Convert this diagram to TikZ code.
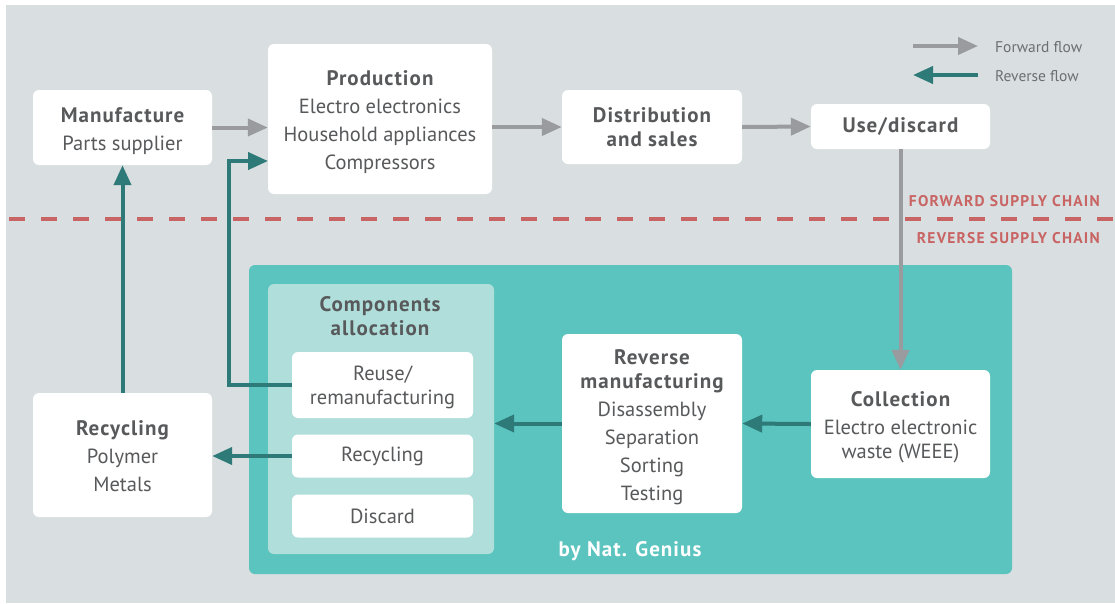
\documentclass[tikz,border=0pt]{standalone}
\usepackage{fontspec}
\setmainfont{PT Sans}
\usetikzlibrary{arrows.meta}
\definecolor{bg}{HTML}{D9DEE0}
\definecolor{txt}{HTML}{58595B}
\definecolor{fwdc}{HTML}{9A9B9E}
\definecolor{revc}{HTML}{2E7A78}
\definecolor{tealbig}{HTML}{5BC4BF}
\definecolor{teallight}{HTML}{B0DFDB}
\definecolor{redc}{HTML}{C96464}
\definecolor{legtxt}{HTML}{6D6E71}
\newcommand\hd[1]{{\fontsize{21}{28}\selectfont\bfseries\addfontfeature{LetterSpace=5}#1}}
\newcommand\stx[1]{\rule{0pt}{#1}}
\begin{document}
\begin{tikzpicture}[x=1pt,y=-1pt,
  box/.style={fill=white, rounded corners=6pt, text=txt, align=center, inner sep=0pt,
    font=\fontsize{20.5}{28}\selectfont},
  fwd/.style={draw=fwdc, line width=4pt, -{Triangle[length=20pt,width=17pt]}},
  revf/.style={draw=revc, line width=4pt, -{Triangle[length=20pt,width=17pt]}},
  chainlbl/.style={text=redc, font=\fontsize{15.5}{16}\selectfont\bfseries\addfontfeature{LetterSpace=8}, anchor=east, inner sep=0pt},
  legl/.style={text=legtxt, font=\fontsize{15.5}{16}\selectfont, anchor=west, inner sep=0pt}]
\useasboundingbox (0,0) rectangle (1115,603);
\fill[bg] (6,5) rectangle (1115,603);

% reverse area
\node[fill=tealbig, rounded corners=6pt, minimum width=763pt, minimum height=309pt, inner sep=0pt] (rsc) at (630.5,419.5) {};
\node[text=white, inner sep=0pt] (brand) at (630,551) {\hd{by Nat. Genius}};
\node[fill=teallight, rounded corners=6pt, minimum width=226pt, minimum height=270pt, inner sep=0pt] (comp) at (381,419) {};
\node[text=txt, align=center, inner sep=0pt, font=\fontsize{21}{24}\selectfont] (comptitle) at (380,316) {\hd{Components}\\\hd{allocation}};

% forward boxes
\node[box, minimum width=179pt, minimum height=75pt] (man) at (122.5,127.5) {\stx{22pt}\hd{Manufacture}\\Parts supplier};
\node[box, minimum width=224pt, minimum height=150pt] (prod) at (380,119) {\stx{22pt}\hd{Production}\\Electro electronics\\Household appliances\\Compressors};
\node[box, minimum width=180pt, minimum height=74pt] (dist) at (652,127) {\hd{Distribution}\\[-4pt]\hd{and sales}};
\node[box, minimum width=179pt, minimum height=45pt] (use) at (900.5,126.5) {\hd{Use/discard}};

% reverse boxes
\node[box, minimum width=181pt, minimum height=66pt] (reuse) at (382.5,385) {\stx{20pt}Reuse/\\[-4pt]remanufacturing};
\node[box, minimum width=181pt, minimum height=43pt] (rec2) at (382.5,456) {Recycling};
\node[box, minimum width=181pt, minimum height=43pt] (disc) at (382.5,516) {Discard};
\node[box, minimum width=180pt, minimum height=179pt] (revm) at (652,423.5) {\stx{23pt}\hd{Reverse}\\[-4pt]\hd{manufacturing}\\Disassembly\\Separation\\Sorting\\Testing};
\node[box, minimum width=179pt, minimum height=108pt] (coll) at (900.5,424) {\stx{22pt}\hd{Collection}\\Electro electronic\\[-4pt]waste (WEEE)};
\node[box, minimum width=179pt, minimum height=124pt] (rec) at (122.5,455) {\stx{18pt}\hd{Recycling}\\Polymer\\Metals};

% divider
\coordinate (dl) at (6,219);
\coordinate (dr) at (1115,219);
\draw[redc, line width=3.5pt, dash pattern=on 16pt off 16pt, dash phase=-3pt] (dl) -- (dr);
\node[chainlbl] (fsc) at (1100,201) {FORWARD SUPPLY CHAIN};
\node[chainlbl] (rscl) at (1100,238) {REVERSE SUPPLY CHAIN};

% forward flow
\draw[fwd] (man.east) -- (man.east -| prod.west);
\draw[fwd] (dist.west -| prod.east) -- (dist.west);
\draw[fwd] (dist.east) -- (use.west);
\draw[fwd] (use.south) -- (coll.north);

% reverse flow
\draw[revf] (coll.west) -- (revm.east);
\draw[revf] (revm.west) -- (revm.west -| comp.east);
\draw[revf] (rec2.west) -- (rec2.west -| rec.east);
\draw[revf] (rec.north) -- (man.south);
\coordinate (rj) at (229,0);
\coordinate (pin) at (268,161);
\draw[revf] (reuse.west) -- (reuse.west -| rj) |- (pin);

% legend
\coordinate (l1a) at (913,46);
\coordinate (l1b) at (978,46);
\coordinate (l2a) at (978,75);
\coordinate (l2b) at (913,75);
\draw[fwd] (l1a) -- (l1b);
\draw[revf] (l2a) -- (l2b);
\node[legl] (lf) at (995,47) {Forward flow};
\node[legl] (lr) at (995,76) {Reverse flow};
\end{tikzpicture}
\end{document}
